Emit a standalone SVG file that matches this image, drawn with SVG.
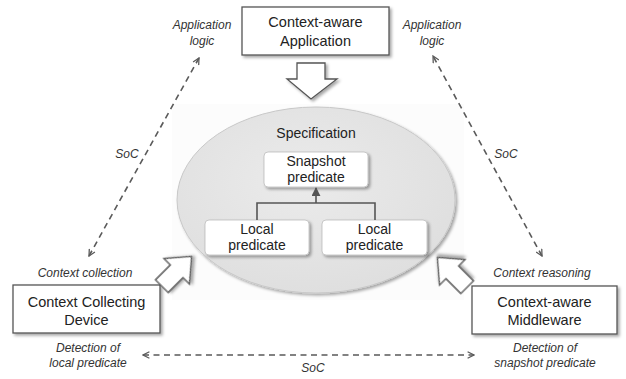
<svg xmlns="http://www.w3.org/2000/svg" width="626" height="379" viewBox="0 0 626 379">
<defs>
<style>
.box{fill:#fff;stroke:#555;stroke-width:1.3}
.rbox{fill:#fff;stroke:#bbb;stroke-width:0.8}
.t{font-family:"Liberation Sans",Arial,sans-serif;font-size:14.5px;fill:#222;text-anchor:middle}
.s{font-family:"Liberation Sans",Arial,sans-serif;font-size:14px;fill:#222;text-anchor:middle}
.i{font-family:"Liberation Sans",Arial,sans-serif;font-size:12px;font-style:italic;fill:#333;text-anchor:middle}
.dash{fill:none;stroke:#5a5a5a;stroke-width:1.6;stroke-dasharray:6 4.5}
.fat{fill:#fff;stroke:#555;stroke-width:1.3;stroke-linejoin:miter}
</style>
<filter id="sh" x="-20%" y="-20%" width="150%" height="150%">
<feDropShadow dx="2" dy="2" stdDeviation="1.5" flood-color="#000" flood-opacity="0.35"/>
</filter>
<radialGradient id="eg" cx="0.45" cy="0.4" r="0.65">
<stop offset="0" stop-color="#ebebeb"/>
<stop offset="1" stop-color="#dedede"/>
</radialGradient>
<marker id="oa" viewBox="0 0 10 10" refX="9" refY="5" markerWidth="8" markerHeight="8" orient="auto-start-reverse" markerUnits="userSpaceOnUse">
<path d="M1,1 L9,5 L1,9" fill="none" stroke="#5a5a5a" stroke-width="1.6"/>
</marker>
<marker id="fa" viewBox="0 0 10 10" refX="9" refY="5" markerWidth="9" markerHeight="9" orient="auto" markerUnits="userSpaceOnUse">
<path d="M0,0 L10,5 L0,10 Z" fill="#555"/>
</marker>
</defs>
<rect width="626" height="379" fill="#fff"/>
<rect x="172" y="104" width="292" height="196" fill="#fcfcfc"/>

<g id="specification">
<ellipse cx="316" cy="200" rx="139" ry="93" fill="url(#eg)" stroke="#c8c8c8" stroke-width="1" filter="url(#sh)"/>
<text class="s" x="316" y="138">Specification</text>
</g>

<g id="snapshot-predicate">
<rect class="rbox" x="264" y="152" width="104" height="35" rx="4" filter="url(#sh)"/>
<text class="s" x="316" y="166">Snapshot</text>
<text class="s" x="316" y="182">predicate</text>
</g>
<g id="local-predicate-1">
<rect class="rbox" x="205" y="220" width="104" height="35" rx="4" filter="url(#sh)"/>
<text class="s" x="257" y="234">Local</text>
<text class="s" x="257" y="250">predicate</text>
</g>
<g id="local-predicate-2">
<rect class="rbox" x="322" y="220" width="105" height="35" rx="4" filter="url(#sh)"/>
<text class="s" x="374.5" y="234">Local</text>
<text class="s" x="374.5" y="250">predicate</text>
</g>

<g id="app">
<rect class="box" x="242" y="7" width="147" height="48" filter="url(#sh)"/>
<text class="t" x="315.5" y="27">Context-aware</text>
<text class="t" x="315.5" y="46">Application</text>
</g>
<g id="device">
<rect class="box" x="13" y="285" width="147" height="48" filter="url(#sh)"/>
<text class="t" x="86.5" y="307">Context Collecting</text>
<text class="t" x="86.5" y="325">Device</text>
</g>
<g id="middleware">
<rect class="box" x="472" y="286" width="145" height="48" filter="url(#sh)"/>
<text class="t" x="544.5" y="307">Context-aware</text>
<text class="t" x="544.5" y="325">Middleware</text>
</g>

<g id="labels">
<text class="i" x="202" y="29">Application</text>
<text class="i" x="202" y="45">logic</text>
<text class="i" x="432" y="29">Application</text>
<text class="i" x="432" y="45">logic</text>
<text class="i" x="127" y="158">SoC</text>
<text class="i" x="506" y="158">SoC</text>
<text class="i" x="85" y="277">Context collection</text>
<text class="i" x="542" y="277">Context reasoning</text>
<text class="i" x="88" y="352">Detection of</text>
<text class="i" x="88" y="367">local predicate</text>
<text class="i" x="545" y="352">Detection of</text>
<text class="i" x="545" y="367">snapshot predicate</text>
<text class="i" x="313" y="372">SoC</text>
</g>

<g id="connectors">
<line class="dash" x1="89" y1="256" x2="199" y2="58" marker-start="url(#oa)" marker-end="url(#oa)"/>
<line class="dash" x1="542" y1="256" x2="433" y2="56" marker-start="url(#oa)" marker-end="url(#oa)"/>
<line class="dash" x1="143" y1="355" x2="474" y2="355" marker-start="url(#oa)" marker-end="url(#oa)"/>
<path d="M257,220 V203 H375 V220" fill="none" stroke="#555" stroke-width="1.6"/>
<line x1="316" y1="203" x2="316" y2="188" stroke="#555" stroke-width="1.6" marker-end="url(#fa)"/>
<polygon class="fat" points="297,63 325,63 325,79 337,79 311,99 287,79 297,79" filter="url(#sh)"/>
<polygon class="fat" points="-20,-9 1,-9 1,-18 22,0 1,18 1,9 -20,9" transform="translate(176,272) rotate(-45)" filter="url(#sh)"/>
<polygon class="fat" points="-20,-9 1,-9 1,-18 22,0 1,18 1,9 -20,9" transform="translate(453,273) rotate(-135)" filter="url(#sh)"/>
</g>
</svg>
